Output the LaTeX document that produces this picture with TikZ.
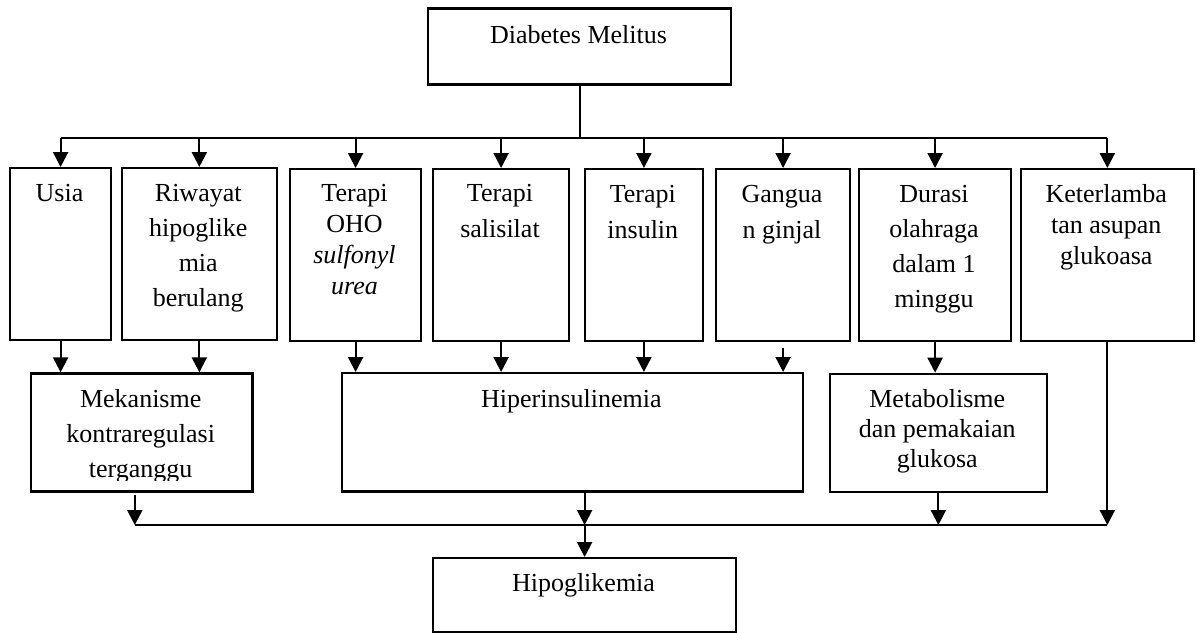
\documentclass[tikz,border=0pt]{standalone}
\usepackage{fontspec}
\setmainfont{Liberation Serif}
\usetikzlibrary{arrows.meta}
\newcommand{\mlines}[1]{\begin{tabular}[t]{@{}c@{}}#1\end{tabular}}
\begin{document}
\begin{tikzpicture}[x=1pt,y=-1pt,
  box/.style={draw, line width=2.2pt, inner sep=0pt, anchor=north west},
  txt/.style={anchor=base, inner sep=0pt, font=\fontsize{26}{#1}\selectfont},
  txt/.default=36,
  conn/.style={line width=2.2pt},
  arr/.style={line width=2.2pt, -{Triangle[width=15pt,length=15pt]}}]
\useasboundingbox (0,0) rectangle (1197,632);

% boxes
\node[box, minimum width=303pt, minimum height=76pt] (dm) at (427,7.3) {};
\node[box, minimum width=101pt, minimum height=172pt] (usia) at (9,167) {};
\node[box, minimum width=154.5pt, minimum height=172pt] (riw) at (121,167) {};
\node[box, minimum width=131pt, minimum height=172pt] (oho) at (289,168) {};
\node[box, minimum width=136pt, minimum height=172pt] (sal) at (432,168) {};
\node[box, minimum width=118.4pt, minimum height=172pt] (ins) at (583.6,168) {};
\node[box, minimum width=134pt, minimum height=172pt] (gag) at (715,168) {};
\node[box, minimum width=152pt, minimum height=172pt] (dur) at (858,168) {};
\node[box, minimum width=172.5pt, minimum height=172pt] (ket) at (1020,168) {};
\node[box, minimum width=221.4pt, minimum height=118pt] (mek) at (30,372.3) {};
\node[box, minimum width=460.7pt, minimum height=118.3pt] (hip) at (341,372) {};
\node[box, minimum width=217.5pt, minimum height=118pt] (met) at (828.5,372.7) {};
\node[box, minimum width=303pt, minimum height=73.5pt] (hgl) at (432,557) {};

% texts
\node[txt] (dmT) at (578.5,43.3) {Diabetes Melitus};
\node[txt] (usiaT) at (59.5,201.7) {Usia};
\node[txt=35] (riwT) at (198.25,201.7) {\mlines{Riwayat\\hipoglike\\mia\\berulang}};
\node[txt=31] (ohoT) at (354.5,201.7) {\mlines{Terapi\\OHO\\\textit{sulfonyl}\\\textit{urea}}};
\node[txt=36] (salT) at (500,201.7) {\mlines{Terapi\\salisilat}};
\node[txt=36] (insT) at (642.8,202.7) {\mlines{Terapi\\insulin}};
\node[txt=36] (gagT) at (782,202.7) {\mlines{Gangua\\n ginjal}};
\node[txt=35] (durT) at (934,202.7) {\mlines{Durasi\\olahraga\\dalam 1\\minggu}};
\node[txt=31] (ketT) at (1106.25,202.7) {\mlines{Keterlamba\\tan asupan\\glukoasa}};
\begin{scope}
\clip (0,360) rectangle (1197,480.5);
\node[txt=35] (mekT) at (140.7,407.7) {\mlines{Mekanisme\\kontraregulasi\\terganggu}};
\end{scope}
\node[txt] (hipT) at (571.35,407.7) {Hiperinsulinemia};
\node[txt=30] (metT) at (937.25,407.7) {\mlines{Metabolisme\\dan pemakaian\\glukosa}};
\node[txt] (hglT) at (583.5,591.7) {Hipoglikemia};

% connectors top
\coordinate (ty) at (0,137.7);
\coordinate (by) at (0,525);
\draw[conn] (dm.south) -- (dm.south |- ty);
\draw[conn] (usia.north |- ty) -- (ket.north |- ty);
\foreach \n in {usia,riw,oho,sal,ins,gag,dur,ket}
  \draw[arr] (\n.north |- ty) -- (\n.north);

% second row
\draw[arr] (usia.south) -- (usia.south |- mek.north);
\draw[arr] (riw.south) -- (riw.south |- mek.north);
\draw[arr] (oho.south) -- (oho.south |- hip.north);
\draw[arr] (sal.south) -- (sal.south |- hip.north);
\draw[arr] (ins.south) -- (ins.south |- hip.north);
\draw[arr] ([yshift=-6pt]gag.south) -- (gag.south |- hip.north);
\draw[arr] (dur.south) -- (dur.south |- met.north);

% bottom
\coordinate (mekb) at ([xshift=-7pt, yshift=-2.5pt]mek.south);
\draw[arr] (mekb) -- (mekb |- by);
\draw[arr] (hgl.north |- hip.south) -- (hgl.north |- by);
\draw[arr] (met.south) -- (met.south |- by);
\draw[arr] (ket.south) -- (ket.south |- by);
\draw[conn] (mekb |- by) -- (ket.south |- by);
\draw[arr] (hgl.north |- by) -- (hgl.north);
\end{tikzpicture}
\end{document}
